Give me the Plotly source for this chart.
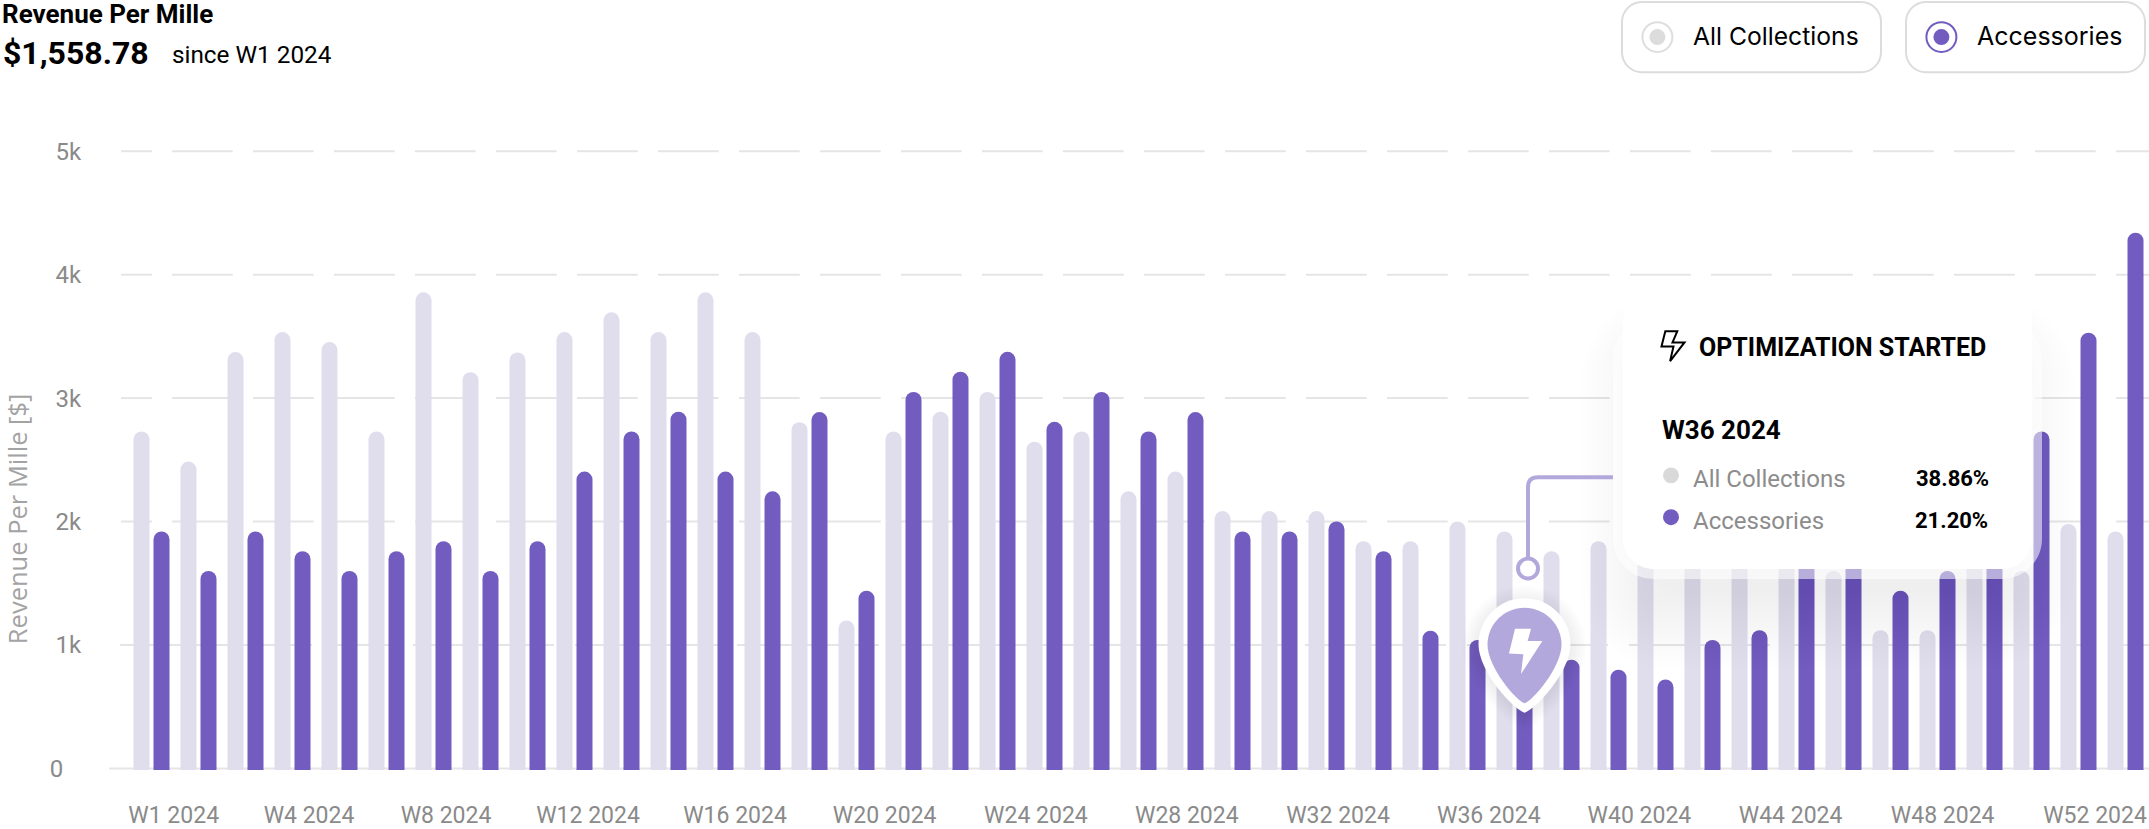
import plotly.graph_objects as go

# ---------- data ----------
group_index = list(range(43))
all_collections = [2730, 2486, 3373, 3535, 3454, 2730, 3857, 3210, 3370, 3535, 3695, 3535, 3857, 3535,
                   2805, 1198, 2730, 2890, 3050, 2647, 2730, 2245, 2405, 2085, 2085, 2085, 1840, 1840,
                   2000, 1920, 1760, 1840, 1900, 2100, 2000, 1900, 1600, 1120, 1120, 2000, 1600, 1980, 1920]
accessories = [1920, 1600, 1920, 1760, 1600, 1760, 1840, 1600, 1840, 2405, 2730, 2890, 2405, 2245,
               2887, 1440, 3050, 3214, 3375, 2808, 3050, 2730, 2887, 1920, 1920, 2000, 1760, 1115,
               1040, 950, 880, 800, 720, 1040, 1120, 2200, 2100, 1440, 1600, 2100, 2730, 3530, 4340]
week_labels = ["W1 2024", "W4 2024", "W8 2024", "W12 2024", "W16 2024", "W20 2024", "W24 2024",
               "W28 2024", "W32 2024", "W36 2024", "W40 2024", "W44 2024", "W48 2024", "W52 2024"]
y_ticks = [0, 1000, 2000, 3000, 4000, 5000]
y_tick_labels = ["0\u00a0\u00a0\u00a0", "1k", "2k", "3k", "4k", "5k"]

# ---------- layout constants ----------
W, H = 2149, 829
L, R, T, B = 109, 0, 120, 56
X0, PERIOD = 151.5, 47.0
PX_PER_UNIT = 0.124
# bars overshoot the zero rule by a little under 2 px in the reference
ZERO_SHIFT = 13
label_px = [173.7, 309, 446, 588, 735, 884.7, 1035.9, 1186.8, 1338, 1488.8, 1639.4, 1790.6, 1942.7, 2095]
label_pos = [(p - X0) / PERIOD for p in label_px]

PURPLE, LIGHT, GRID, LAV = "#725cc0", "#e0deed", "#e5e5e5", "#b3a8dc"
NARROW = "Roboto"
WIDE = "Inter"


def fx(p):
    return (p - L) / (W - L - R)


def fy(p):
    return (H - B - p) / (H - T - B)


def P(x, y):
    return f"{fx(x):.5f},{fy(y):.5f}"


def rrect(x0, y0, x1, y1, r):
    k = r * 0.45
    return (f"M{P(x0 + r, y0)} L{P(x1 - r, y0)} C{P(x1 - k, y0)} {P(x1, y0 + k)} {P(x1, y0 + r)} "
            f"L{P(x1, y1 - r)} C{P(x1, y1 - k)} {P(x1 - k, y1)} {P(x1 - r, y1)} "
            f"L{P(x0 + r, y1)} C{P(x0 + k, y1)} {P(x0, y1 - k)} {P(x0, y1 - r)} "
            f"L{P(x0, y0 + r)} C{P(x0, y0 + k)} {P(x0 + k, y0)} {P(x0 + r, y0)} Z")


def pin(cx, cy, r, tip):
    k = r * 0.552
    return (f"M{P(cx, tip)} C{P(cx - r * .22, tip - r * .06)} {P(cx - r, cy + r * .62)} {P(cx - r, cy)} "
            f"C{P(cx - r, cy - k)} {P(cx - k, cy - r)} {P(cx, cy - r)} "
            f"C{P(cx + k, cy - r)} {P(cx + r, cy - k)} {P(cx + r, cy)} "
            f"C{P(cx + r, cy + r * .62)} {P(cx + r * .22, tip - r * .06)} {P(cx, tip)} Z")


def poly(pts):
    return "M" + " L".join(P(x, y) for x, y in pts) + " Z"


def path(d, fill="rgba(0,0,0,0)", line=None, width=0, opacity=1, layer="above"):
    return dict(type="path", xref="paper", yref="paper", path=d, fillcolor=fill, opacity=opacity, layer=layer,
                line=dict(color=line or "rgba(0,0,0,0)", width=width))


def circle(cx, cy, r, fill, line=None, width=0):
    return dict(type="circle", xref="paper", yref="paper", x0=fx(cx - r), x1=fx(cx + r), y0=fy(cy + r), y1=fy(cy - r),
                fillcolor=fill, layer="above", line=dict(color=line or "rgba(0,0,0,0)", width=width))


shapes = []


def hline(y, x0, x1, dash="solid"):
    shapes.append(dict(type="line", xref="paper", yref="y", x0=fx(x0), x1=fx(x1), y0=y + ZERO_SHIFT, y1=y + ZERO_SHIFT,
                       layer="below", line=dict(color=GRID, width=2, dash=dash)))


# grid
hline(0, 109, W)
for v in (2000, 3000, 4000, 5000):
    hline(v, 121, 152)
    hline(v, 172, W, "60.7px,20.3px")
for a, b in [(120, 312), (333, 394), (413, 554), (575, 718), (737, 879), (899, 1284), (1305, 1446),
             (1467, 1608), (1629, 1770), (1791, 1932), (1953, 2094), (2115, W)]:
    hline(1000, a, b)

# legend pills
for x0, x1 in [(1622, 1881), (1906, 2145)]:
    shapes.append(path(rrect(x0, 1.5, x1, 72, 20), fill="white", line="#dcdcdc", width=2))
shapes.append(circle(1657.4, 36.7, 15, "white", "#dedede", 2))
shapes.append(circle(1657.4, 36.7, 8, "#dcdcdc"))
shapes.append(circle(1941.4, 36.7, 15, "white", PURPLE, 2))
shapes.append(circle(1941.4, 36.7, 8, PURPLE))

# tooltip shadow, halo, card
for i in range(16):
    e = 56 - i * 5
    ex = e - 14
    shapes.append(path(rrect(1623 - ex, 291 + 60 - e, 2032 + ex, 571 + 44 + e, 30 + max(e, 0)), fill="black", opacity=0.004))
shapes.append(path(rrect(1613, 320, 2042, 581, 40), fill="white", opacity=0.55))
shapes.append(path(rrect(1623, 291, 2032, 571, 30), fill="white"))

# tooltip icon
bolt = [(555, 330), (580, 330), (570, 358), (595, 358), (565, 405), (572, 368), (547, 368)]
shapes.append(path(poly([(1399 + x / 2.084, 200 + y / 2.496) for x, y in bolt]), line="black", width=2))
shapes.append(circle(1671, 477, 8, "#d9d9d9"))
shapes.append(circle(1671, 519, 8, PURPLE))

# connector
shapes.append(path(f"M{P(1613, 479)} L{P(1538, 479)} C{P(1531, 479)} {P(1528, 482)} {P(1528, 489)} L{P(1528, 560)}",
                   line=LAV, width=4))
shapes.append(circle(1528, 570.6, 10, "white", LAV, 4))

# pin
for i in range(8):
    e = 16 - i * 2
    shapes.append(path(pin(1524.5, 650, 46 + e, 718 + e), fill="black", opacity=0.008))
shapes.append(path(pin(1524.5, 646.5, 46, 715.5), fill="white"))
shapes.append(path(pin(1524.5, 647, 37, 706), fill=LAV))
pin_bolt = [(225, 213), (273, 213), (263, 250), (307, 250), (243, 350), (250, 290), (207, 288)]
shapes.append(path(poly([(1440 + x / 3, 560 + y / 3) for x, y in pin_bolt]), fill="white"))


def note(text, x, y, size, color="black", anchor="left", family=NARROW, angle=0):
    return dict(text=text, xref="paper", yref="paper", x=fx(x), y=fy(y), xanchor=anchor, yanchor="middle",
                showarrow=False, textangle=angle, font=dict(family=family, size=size, color=color))


annotations = [
    note("<b>Revenue Per Mille</b>", 0, 14, 26),
    note("<b>$1,558.78</b>", 1, 53, 32),
    note("since W1 2024", 170, 54, 24.3),
    note("All Collections", 1691, 36, 24.7, family=WIDE),
    note("Accessories", 1975, 36, 25, family=WIDE),
    note("<b>OPTIMIZATION STARTED</b>", 1697, 349, 25),
    note("<b>W36 2024</b>", 1660, 431, 26),
    note("All Collections", 1691, 480.5, 24, "#8c8c8c"),
    note("Accessories", 1691, 522.5, 24, "#8c8c8c"),
    note("<b>38.86%</b>", 1991, 480.5, 22, anchor="right"),
    note("<b>21.20%</b>", 1990, 522.5, 22, anchor="right"),
    note("Revenue Per Mille [$]", 17, 521, 25.5, "#a3a3a3", "center", "Open Sans", -90),
]

fig = go.Figure()
fig.add_bar(x=group_index, y=[v + ZERO_SHIFT for v in all_collections], name="All Collections",
            marker=dict(color=LIGHT, cornerradius=8, line_width=0))
fig.add_bar(x=group_index, y=[v + ZERO_SHIFT for v in accessories], name="Accessories",
            marker=dict(color=PURPLE, cornerradius=8, line_width=0))

fig.update_layout(
    width=W, height=H, autosize=False, showlegend=False, barmode="group", bargap=7 / 47, bargroupgap=0.2,
    margin=dict(l=L, r=R, t=T, b=B, pad=0), paper_bgcolor="white", plot_bgcolor="white",
    shapes=shapes, annotations=annotations,
    xaxis=dict(range=[(L - X0) / PERIOD, (W - X0) / PERIOD], tickmode="array", tickvals=label_pos, ticktext=week_labels,
               showgrid=False, zeroline=False, showline=False, ticks="outside", ticklen=24, tickcolor="rgba(0,0,0,0)",
               tickfont=dict(family=NARROW, size=23, color="#8a8a8a")),
    yaxis=dict(range=[0, (773 - T) / PX_PER_UNIT], tickmode="array", tickvals=[t + ZERO_SHIFT for t in y_ticks],
               ticktext=y_tick_labels, showgrid=False, zeroline=False, showline=False, ticks="outside", ticklen=22,
               tickcolor="rgba(0,0,0,0)", tickfont=dict(family=NARROW, size=24, color="#8a8a8a")),
)
fig.write_html("out.html", config=dict(displayModeBar=False),
               post_script="document.documentElement.style.margin='0';document.body.style.margin='0';document.body.style.overflow='hidden';")
